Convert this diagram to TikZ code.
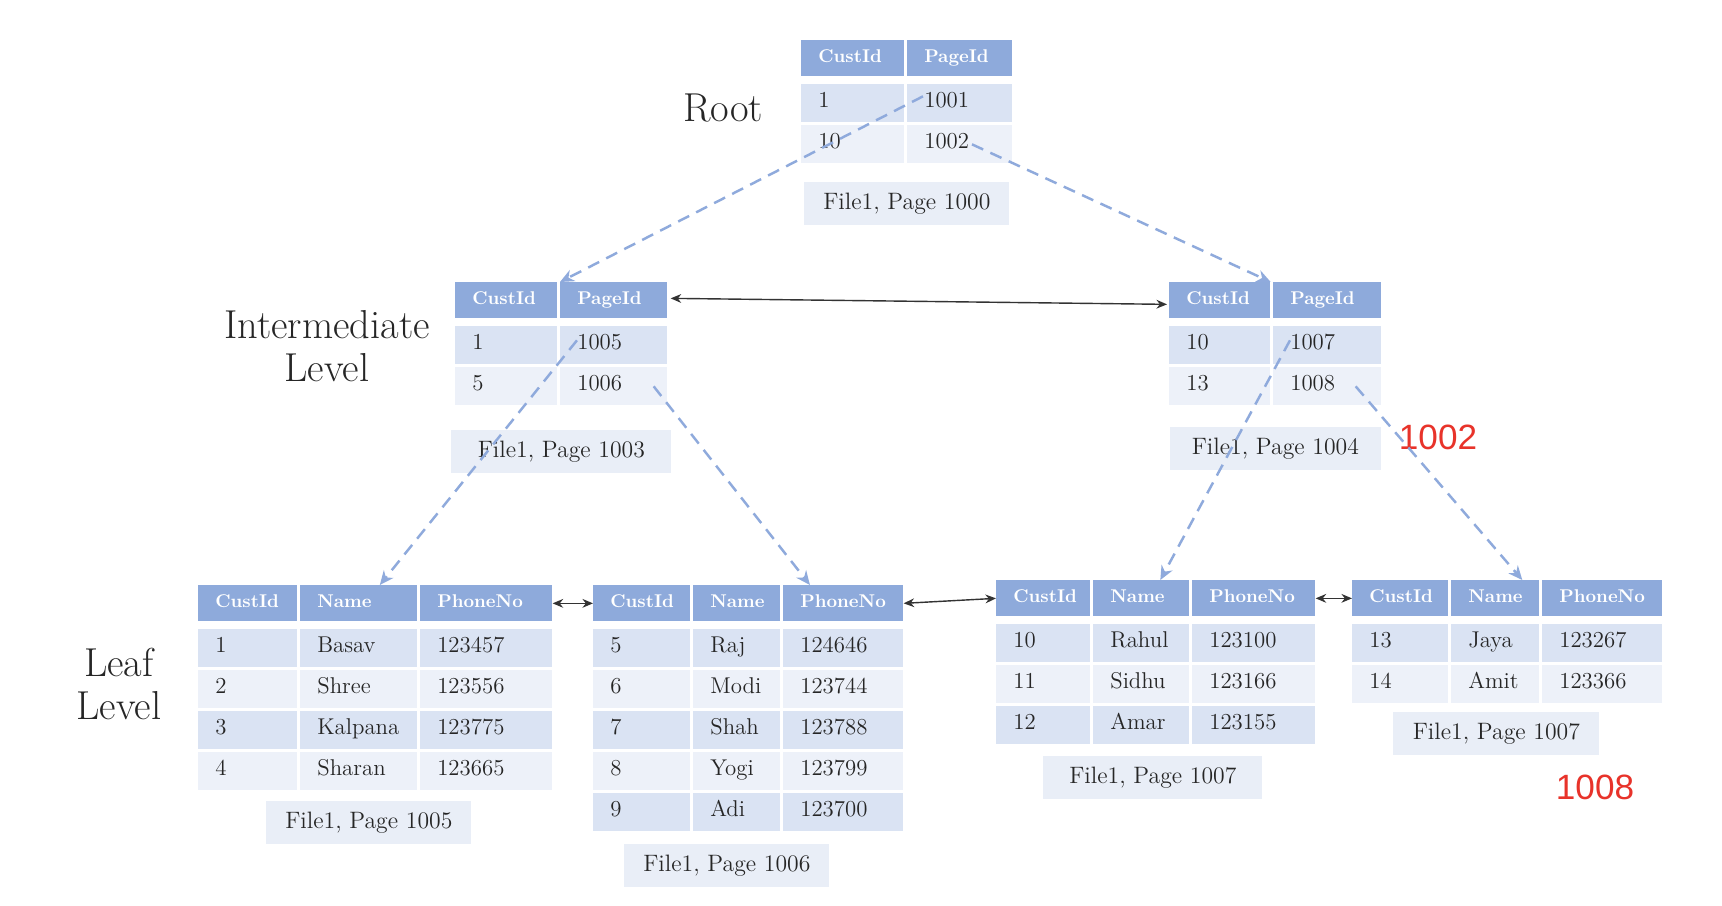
\documentclass[tikz,border=0pt]{standalone}
\usepackage{fontspec}
\newfontfamily\notefont{Liberation Sans}
\usetikzlibrary{matrix, arrows.meta, positioning, calc}

\definecolor{hdrblue}{HTML}{8EAADB}
\definecolor{rowdark}{HTML}{DAE3F3}
\definecolor{rowlight}{HTML}{EDF1F9}
\definecolor{capfill}{HTML}{E9EEF7}
\definecolor{linkblue}{HTML}{8FAADC}
\definecolor{notered}{HTML}{E8332A}

\tikzset{
  pagetbl/.style={matrix of nodes, inner sep=0pt,
    column sep=0.06cm, row sep=0.06cm,
    nodes={rectangle, inner xsep=0.34cm, inner ysep=0pt,
      minimum height=0.76cm, align=left, anchor=center,
      text height=1.6ex, text depth=0.45ex,
      font=\fontsize{13}{15}\selectfont, text=black!85},
    row 1/.style={nodes={fill=hdrblue, text=white, minimum height=0.72cm,
      font=\fontsize{10.5}{12}\selectfont\bfseries}},
    row 2/.style={nodes={fill=rowdark}},
    row 3/.style={nodes={fill=rowlight}},
    row 4/.style={nodes={fill=rowdark}},
    row 5/.style={nodes={fill=rowlight}},
    row 6/.style={nodes={fill=rowdark}}},
  pagecap/.style={rectangle, fill=capfill,
    minimum width=4.1cm, minimum height=0.86cm,
    text centered, font=\fontsize{13.5}{15}\selectfont, text=black!85},
  lvllabel/.style={align=center, text=black!85,
    font=\fontsize{23}{24.5}\selectfont},
  rednote/.style={text=notered, font=\notefont\fontsize{20}{24}\selectfont},
  childlink/.style={draw=linkblue, line width=1.4pt,
    dash pattern=on 7pt off 4.5pt, -{Stealth[length=8pt, width=7pt]}},
  siblink/.style={{Stealth[length=6pt, width=5pt]}-{Stealth[length=6pt, width=5pt]},
    line width=0.8pt, draw=black!80},
}

\begin{document}
\begin{tikzpicture}[x=0.02cm, y=-0.02cm]

\fill[white] (0,0) rectangle (1722,906);
\useasboundingbox (0,0) rectangle (1722,906);

% Root
\matrix (rootT) [pagetbl, anchor=north west,
  column 1/.style={nodes={text width=1.38cm}},
  column 2/.style={nodes={text width=1.42cm}}] at (801,40) {
  CustId & PageId \\[0.1cm]
  1  & 1001 \\
  10 & 1002 \\
};
\node (capRoot) [pagecap, below=0.36cm of rootT] {File1, Page 1000};
\node (lblRoot) [lvllabel] at (723,108) {Root};

% Intermediate level
\matrix (interL) [pagetbl, anchor=north west,
  column 1/.style={nodes={text width=1.36cm}},
  column 2/.style={nodes={text width=1.46cm}}] at (455,282) {
  CustId & PageId \\[0.1cm]
  1 & 1005 \\
  5 & 1006 \\
};
\node (capInterL) [pagecap, below=0.48cm of interL, minimum width=4.4cm]
  {File1, Page 1003};

\matrix (interR) [pagetbl, anchor=north west,
  column 1/.style={nodes={text width=1.34cm}},
  column 2/.style={nodes={text width=1.48cm}}] at (1169,282) {
  CustId & PageId \\[0.1cm]
  10 & 1007 \\
  13 & 1008 \\
};
\node (capInterR) [pagecap, below=0.42cm of interR, minimum width=4.22cm]
  {File1, Page 1004};

\node (lblInter) [lvllabel] at (327,346) {Intermediate\\Level};

% Leaf level
\matrix (leafA) [pagetbl, anchor=north west,
  column 1/.style={nodes={text width=1.30cm}},
  column 2/.style={nodes={text width=1.66cm}},
  column 3/.style={nodes={text width=1.96cm}}] at (198,585) {
  CustId & Name & PhoneNo \\[0.1cm]
  1 & Basav   & 123457 \\
  2 & Shree   & 123556 \\
  3 & Kalpana & 123775 \\
  4 & Sharan  & 123665 \\
};
\node (capLeafA) [pagecap, below=0.2cm of leafA, xshift=-0.13cm]
  {File1, Page 1005};

\matrix (leafB) [pagetbl, anchor=north west,
  column 1/.style={nodes={text width=1.26cm}},
  column 2/.style={nodes={text width=1.06cm}},
  column 3/.style={nodes={text width=1.72cm}}] at (593,585) {
  CustId & Name & PhoneNo \\[0.1cm]
  5 & Raj  & 124646 \\
  6 & Modi & 123744 \\
  7 & Shah & 123788 \\
  8 & Yogi & 123799 \\
  9 & Adi  & 123700 \\
};
\node (capLeafB) [pagecap, below=0.24cm of leafB, xshift=-0.43cm]
  {File1, Page 1006};

\matrix (leafC) [pagetbl, anchor=north west,
  column 1/.style={nodes={text width=1.20cm}},
  column 2/.style={nodes={text width=1.24cm}},
  column 3/.style={nodes={text width=1.78cm}}] at (996,580) {
  CustId & Name & PhoneNo \\[0.1cm]
  10 & Rahul & 123100 \\
  11 & Sidhu & 123166 \\
  12 & Amar  & 123155 \\
};
\node (capLeafC) [pagecap, below=0.22cm of leafC, xshift=-0.06cm, minimum width=4.38cm]
  {File1, Page 1007};

\matrix (leafD) [pagetbl, anchor=north west,
  column 1/.style={nodes={text width=1.24cm}},
  column 2/.style={nodes={text width=1.08cm}},
  column 3/.style={nodes={text width=1.72cm}}] at (1352,580) {
  CustId & Name & PhoneNo \\[0.1cm]
  13 & Jaya & 123267 \\
  14 & Amit & 123366 \\
};
\node (capLeafD) [pagecap, below=0.16cm of leafD, xshift=-0.22cm, minimum width=4.12cm]
  {File1, Page 1007};

\node (lblLeaf) [lvllabel] at (119,684) {Leaf\\Level};

% Page numbers written over the picture
\node (note1002) [rednote] at (1438,437) {1002};
\node (note1008) [rednote] at (1595,787) {1008};

% Child pointers
\draw[childlink] ($(rootT-2-2.west)+(16,-7)$) -- (interL-1-2.north west);
\draw[childlink] ($(rootT-3-2.west)+(65,0)$)  -- (interR-1-1.north east);
\draw[childlink] ($(interL-2-2.west)+(17,-5)$) -- ($(leafA-1-2.north)+(21,0)$);
\draw[childlink] ($(interL-3-2.east)+(-14,0)$) -- ($(leafB-1-3.north west)+(27,0)$);
\draw[childlink] ($(interR-2-2.west)+(17,-5)$) -- ($(leafC-1-2.north)+(19,0)$);
\draw[childlink] ($(interR-3-2.east)+(-26,0)$) -- ($(leafD-1-2.north)+(27,0)$);

% Sibling pointers
\draw[siblink] ($(interL-1-2.east)+(3,-2)$) -- ($(interR-1-1.west)+(-2,4)$);
\draw[siblink] (leafA-1-3.east) -- (leafB-1-1.west);
\draw[siblink] (leafB-1-3.east) -- (leafC-1-1.west);
\draw[siblink] (leafC-1-3.east) -- (leafD-1-1.west);

\end{tikzpicture}
\end{document}
